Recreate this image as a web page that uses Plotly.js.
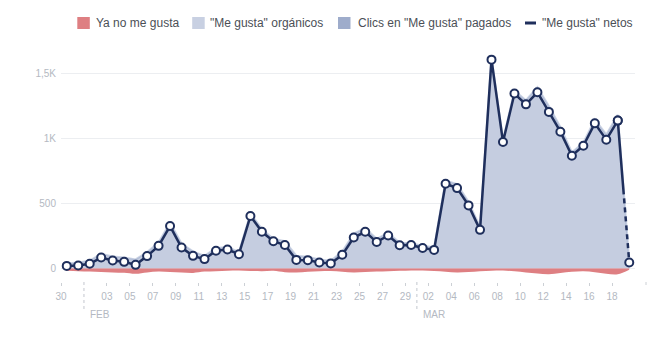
<!DOCTYPE html>
<html>
<head>
<meta charset="utf-8">
<script src="https://cdn.plot.ly/plotly-3.0.1.min.js"></script>
<style>html,body{margin:0;padding:0;background:#fff;}#chart{width:654px;height:362px;}</style>
</head>
<body>
<div id="chart"></div>
<script>
// ---- data ----
const days = [
 '2016-01-30','2016-01-31',
 '2016-02-01','2016-02-02','2016-02-03','2016-02-04','2016-02-05','2016-02-06','2016-02-07','2016-02-08','2016-02-09','2016-02-10',
 '2016-02-11','2016-02-12','2016-02-13','2016-02-14','2016-02-15','2016-02-16','2016-02-17','2016-02-18','2016-02-19','2016-02-20',
 '2016-02-21','2016-02-22','2016-02-23','2016-02-24','2016-02-25','2016-02-26','2016-02-27','2016-02-28','2016-02-29',
 '2016-03-01','2016-03-02','2016-03-03','2016-03-04','2016-03-05','2016-03-06','2016-03-07','2016-03-08','2016-03-09','2016-03-10',
 '2016-03-11','2016-03-12','2016-03-13','2016-03-14','2016-03-15','2016-03-16','2016-03-17','2016-03-18','2016-03-19'
];
const netLikes = [19,22,35,83,60,50,27,94,173,325,160,96,71,135,145,109,402,281,209,179,65,63,45,38,104,237,281,202,253,178,179,156,142,650,617,484,296,1605,972,1344,1261,1354,1203,1051,866,943,1115,989,1136,45];
const organicLikes = [38,44,60,111,91,84,69,125,198,353,191,131,96,157,164,126,422,303,228,209,97,89,68,59,130,268,309,227,275,197,195,173,162,676,648,512,318,1624,989,1367,1293,1394,1248,1087,893,966,1145,1030,1181,56];
const paidLikes = [0,0,0,0,0,0,0,0,0,0,0,0,0,0,0,0,0,0,0,0,0,0,0,0,0,0,0,0,0,0,0,0,0,0,0,0,0,0,0,0,0,0,0,0,0,0,0,0,0,0];
const unlikes = [-19,-22,-25,-28,-31,-34,-42,-31,-25,-28,-31,-35,-25,-22,-19,-17,-20,-22,-19,-30,-32,-26,-23,-21,-26,-31,-28,-25,-22,-19,-16,-17,-20,-26,-31,-28,-22,-19,-17,-23,-32,-40,-45,-36,-27,-23,-30,-41,-45,-11];

const xTickVals = ['2016-01-30','2016-02-03','2016-02-05','2016-02-07','2016-02-09','2016-02-11','2016-02-13','2016-02-15','2016-02-17','2016-02-19','2016-02-21','2016-02-23','2016-02-25','2016-02-27','2016-02-29','2016-03-02','2016-03-04','2016-03-06','2016-03-08','2016-03-10','2016-03-12','2016-03-14','2016-03-16','2016-03-18'];
const xTickText = ['30','03','05','07','09','11','13','15','17','19','21','23','25','27','29','02','04','06','08','10','12','14','16','18'];
const monthStarts = ['2016-02-01','2016-03-01'];
const monthLabels = ['FEB','MAR'];
const yTickVals = [0,500,1000,1500];
const yTickText = ['0','500','1K','1,5K'];
const legendNames = ['Ya no me gusta','"Me gusta" orgánicos','Clics en "Me gusta" pagados','"Me gusta" netos'];

// ---- style ----
const W = 654, H = 362;
const M = {l:61, r:19, t:40, b:80};
const PW = W - M.l - M.r, PH = H - M.t - M.b;
const px = x => (x - M.l) / PW;
const py = y => (M.t + PH - y) / PH;
const FONT = '"Liberation Sans", Arial, sans-serif';
const cRed = '#de7f82', cOrg = '#c5cde0', cOrgLeg = '#c8d0e2', cPaid = '#9eaccb', cNet = '#1f2f5c';
const tickGray = '#b4b9c2';
const period = {xperiod: 86400000, xperiodalignment: 'middle'};

const traces = [
  Object.assign({x: days, y: unlikes, type:'scatter', mode:'lines', fill:'tozeroy', fillcolor: cRed,
    line:{width:0, shape:'spline', color: cRed}, hoverinfo:'skip', showlegend:false}, period),
  Object.assign({x: days, y: organicLikes, type:'scatter', mode:'lines', fill:'tozeroy', fillcolor: cOrg,
    line:{width:2, color:'rgba(160,175,205,0.55)'}, hoverinfo:'skip', showlegend:false}, period),
  Object.assign({x: days, y: paidLikes, type:'scatter', mode:'lines', fill:'tozeroy', fillcolor: cPaid,
    line:{width:0, color: cPaid}, hoverinfo:'skip', showlegend:false}, period),
  Object.assign({x: days.slice(48), y: netLikes.slice(48), type:'scatter', mode:'lines+markers',
    line:{width:2.5, color: cNet, dash:'74px,4px,5px,4px,5px,4px,5px,4px,5px,4px,5px,4px,5px,4px,5px,4px,5px'},
    marker:{size:8, color:'#fff', line:{width:2, color:cNet}}, hoverinfo:'skip', showlegend:false}, period),
  Object.assign({x: days.slice(0,49), y: netLikes.slice(0,49), type:'scatter', mode:'lines+markers',
    line:{width:2.5, color: cNet},
    marker:{size:8, color:'#fff', line:{width:2, color:cNet}}, hoverinfo:'skip', showlegend:false}, period)
];

const shapes = [];
const annotations = [];
// month separators
monthStarts.forEach((d, i) => {
  shapes.push({type:'line', xref:'x', yref:'paper', x0:d, x1:d, y0:0, y1:py(310),
    line:{color:'#c3c7ce', width:1, dash:'dot'}});
  annotations.push({xref:'x', yref:'paper', x:d, y:py(314.5), xshift:6, xanchor:'left', yanchor:'middle',
    text: monthLabels[i], showarrow:false, borderpad:0, borderwidth:0,
    font:{family:FONT, size:10, color:tickGray}});
});
// extra tick at the right end
shapes.push({type:'line', xref:'paper', yref:'paper', x0:px(646), x1:px(646), y0:0, y1:py(285),
  line:{color:'#ccd0d5', width:1}});

// custom legend
const legSquares = [[77.3, cRed],[192.2, cOrgLeg],[338, cPaid]];
legSquares.forEach(s => {
  shapes.push({type:'rect', xref:'paper', yref:'paper', x0:px(s[0]), x1:px(s[0]+12.5), y0:py(29), y1:py(17),
    fillcolor:s[1], line:{width:0}});
});
shapes.push({type:'line', xref:'paper', yref:'paper', x0:px(525), x1:px(536), y0:py(23), y1:py(23),
  line:{color:cNet, width:3}});
const legTextX = [96, 210, 358, 542];
legendNames.forEach((t, i) => {
  annotations.push({xref:'paper', yref:'paper', x:px(legTextX[i]), y:py(23), xanchor:'left', yanchor:'middle',
    text:t, showarrow:false, borderpad:0, borderwidth:0, font:{family:FONT, size:12, color:'#4b4f56'}});
});

const layout = {
  width:W, height:H, margin:M, paper_bgcolor:'#fff', plot_bgcolor:'#fff',
  showlegend:false, font:{family:FONT},
  xaxis:{type:'date', range:['2016-01-30','2016-03-20'], tickmode:'array', tickvals:xTickVals, ticktext:xTickText,
    ticks:'outside', ticklen:3, tickcolor:'#ccd0d5', tickwidth:1, showgrid:false, zeroline:false, showline:false,
    tickfont:{family:FONT, size:10, color:tickGray}, ticklabelstandoff:2, fixedrange:true},
  yaxis:{range:[-105,1756], tickmode:'array', tickvals:yTickVals, ticktext:yTickText, ticks:'',
    showgrid:true, gridcolor:'#eceef1', gridwidth:1, zeroline:false, showline:false,
    tickfont:{family:FONT, size:10, color:tickGray}, ticklabelstandoff:4, fixedrange:true},
  shapes: shapes,
  annotations: annotations
};

Plotly.newPlot('chart', traces, layout, {displayModeBar:false, staticPlot:true});
</script>
</body>
</html>
